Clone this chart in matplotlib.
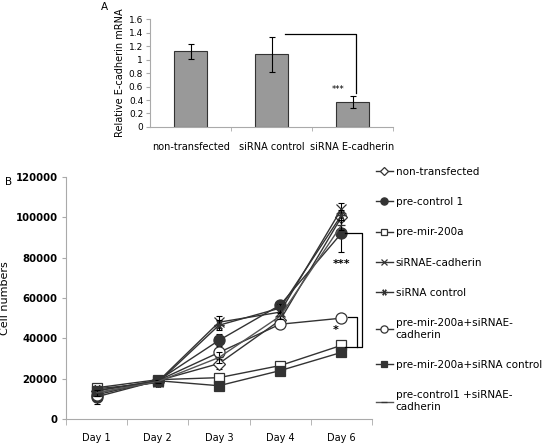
import numpy as np
import matplotlib
matplotlib.use("Agg")
from matplotlib import pyplot as plt

# ---- panel A data ----
groups_a = ["non-transfected", "siRNA control", "siRNA E-cadherin"]
mrna = [1.12, 1.08, 0.37]
mrna_err = [0.11, 0.26, 0.09]

# ---- panel B data ----
days = ["Day 1", "Day 2", "Day 3", "Day 4", "Day 6"]
non_transfected = [14000, 19000, 27500, 49000, 100000]
pre_control1 = [11000, 19000, 39000, 56500, 92000]
pre_mir_200a = [15500, 19500, 20500, 26500, 36500]
sirna_ecad = [13000, 18500, 48000, 53000, 104000]
sirna_control = [15000, 18000, 46500, 55000, 101000]
pre_mir_sirna_ecad = [12000, 19000, 33000, 47000, 50000]
pre_mir_sirna_control = [14000, 19000, 16500, 24000, 33000]
pre_control1_sirna_ecad = [13000, 18500, 30500, 51000, 96000]

err_non_transfected = [1500, 800, 2500, 1500, 2000]
err_pre_control1 = [3500, 800, 3000, 1500, 9000]
err_pre_mir_200a = [1500, 800, 1500, 1000, 1500]
err_sirna_ecad = [1500, 800, 3000, 2000, 3000]
err_sirna_control = [1500, 800, 2500, 2000, 2500]
err_pre_mir_sirna_ecad = [1500, 800, 2000, 2000, 1500]
err_pre_mir_sirna_control = [1500, 800, 1500, 1000, 1500]
err_pre_control1_sirna_ecad = [1500, 800, 2500, 1500, 2500]

dark = "#333333"
spine_col = "#aaaaaa"

fig = plt.figure(figsize=(5.6, 4.44), dpi=100)

#------------------------- panel A -------------------------
axa = fig.add_axes([0.268, 0.714, 0.434, 0.243])
xa = np.arange(len(groups_a))
axa.bar(xa, mrna, width=0.41, color="#999999", edgecolor=dark, linewidth=0.8,
        yerr=mrna_err, error_kw=dict(ecolor="black", elinewidth=0.8, capsize=2, capthick=0.8))
axa.set_xlim(-0.5, 2.5)
axa.set_ylim(0, 1.6)
axa.set_yticks(np.arange(0, 1.61, 0.2))
axa.set_yticklabels(["%g" % round(v, 1) for v in np.arange(0, 1.61, 0.2)], fontsize=6.5)
axa.set_xticks(xa)
axa.set_xticklabels(groups_a, fontsize=7)
axa.tick_params(axis="x", which="major", length=0, pad=11)
axa.set_xticks([0.5, 1.5, 2.5], minor=True)
axa.tick_params(axis="x", which="minor", length=3, color=spine_col, direction="out")
axa.tick_params(axis="y", length=3, color=spine_col, pad=2)
for s in ["top", "right"]:
    axa.spines[s].set_visible(False)
for s in ["left", "bottom"]:
    axa.spines[s].set_color(spine_col)
axa.set_ylabel("Relative E-cadherin mRNA", fontsize=7, labelpad=3)
# significance bracket
axa.plot([1.17, 2.04, 2.04], [1.38, 1.38, 0.5], color="black", lw=0.9, clip_on=False)
axa.text(1.82, 0.55, "***", fontsize=6, ha="center", va="center")
fig.text(0.18, 0.985, "A", fontsize=7.5, va="center")

#------------------------- panel B -------------------------
axb = fig.add_axes([0.118, 0.0563, 0.546, 0.545])
xb = np.arange(len(days))
series = [
    ("non-transfected", non_transfected, err_non_transfected, "D", "white", 6, dark),
    ("pre-control 1", pre_control1, err_pre_control1, "o", dark, 8, dark),
    ("pre-mir-200a", pre_mir_200a, err_pre_mir_200a, "s", "white", 7.5, dark),
    ("siRNAE-cadherin", sirna_ecad, err_sirna_ecad, "x", dark, 7, dark),
    ("siRNA control", sirna_control, err_sirna_control, (6, 2, 90), dark, 7, dark),
    ("pre-mir-200a+siRNAE-\ncadherin", pre_mir_sirna_ecad, err_pre_mir_sirna_ecad, "o", "white", 8, dark),
    ("pre-mir-200a+siRNA control", pre_mir_sirna_control, err_pre_mir_sirna_control, "s", dark, 7, dark),
    ("pre-control1 +siRNAE-\ncadherin", pre_control1_sirna_ecad, err_pre_control1_sirna_ecad, "_", dark, 6, "#555555"),
]
for label, vals, err, mk, face, ms, col in series:
    axb.errorbar(xb, vals, yerr=err, fmt="none", ecolor="black", elinewidth=0.8,
                 capsize=2.5, capthick=0.8)
    axb.plot(xb, vals, color=col, lw=1.0, marker=mk, ms=ms,
             mfc=face, mec=dark, mew=0.9, label=label)

axb.set_xlim(-0.5, 4.5)
axb.set_ylim(0, 120000)
axb.set_yticks(np.arange(0, 120001, 20000))
axb.set_yticklabels([str(v) for v in range(0, 120001, 20000)], fontsize=7.3, fontweight="bold")
axb.set_xticks(xb)
axb.set_xticklabels(days, fontsize=7)
axb.tick_params(axis="x", which="major", length=0, pad=10)
axb.set_xticks(np.arange(-0.5, 4.6, 1), minor=True)
axb.tick_params(axis="x", which="minor", length=4, color=spine_col, direction="out")
axb.tick_params(axis="y", length=3, color=spine_col, pad=3)
for s in ["top", "right"]:
    axb.spines[s].set_visible(False)
for s in ["left", "bottom"]:
    axb.spines[s].set_color(spine_col)
axb.set_ylabel("Cell numbers", fontsize=8)
axb.yaxis.set_label_coords(-0.185, 0.5)

# brackets at Day 6
axb.plot([4.06, 4.34, 4.34, 4.06], [92000, 92000, 35600, 35600], color="black", lw=0.9, clip_on=False)
axb.plot([4.11, 4.25, 4.25], [50500, 50500, 35600], color="black", lw=0.9, clip_on=False)
axb.text(4.01, 77000, "***", fontsize=8, fontweight="bold", ha="center", va="center")
axb.text(3.91, 44000, "*", fontsize=8, fontweight="bold", ha="center", va="center")

axb.legend(loc="upper left", bbox_to_anchor=(1.0, 1.06), frameon=False, fontsize=7.5,
           handlelength=1.6, handletextpad=0.3, labelspacing=1.95, markerscale=0.65,
           borderaxespad=0)
fig.text(0.009, 0.59, "B", fontsize=7.5, va="center")

fig.savefig("out.png", dpi=100)
